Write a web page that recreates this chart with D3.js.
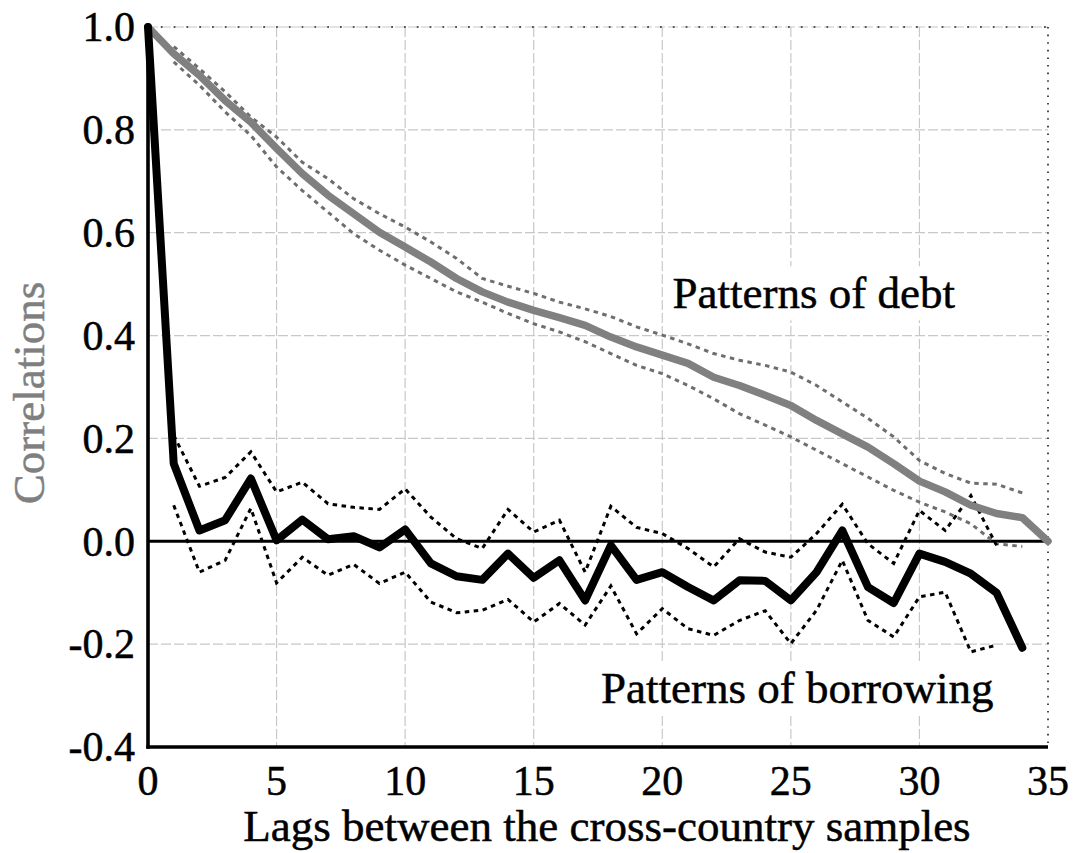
<!DOCTYPE html>
<html>
<head>
<meta charset="utf-8">
<script src="https://cdn.jsdelivr.net/npm/d3@7"></script>
<style>
  body { margin: 0; background: #fff; }
  #canvas { width: 1076px; height: 853px; }
</style>
</head>
<body>
<div id="canvas"></div>
<script>
// lags on the x axis
const debtLags = [0,1,2,3,4,5,6,7,8,9,10,11,12,13,14,15,16,17,18,19,20,21,22,23,24,25,26,27,28,29,30,31,32,33,34,35]
const debtValues = [1.0,0.948,0.906,0.857,0.815,0.764,0.715,0.673,0.637,0.601,0.572,0.543,0.511,0.485,0.465,0.449,0.435,0.42,0.397,0.378,0.362,0.346,0.319,0.303,0.284,0.264,0.235,0.209,0.183,0.151,0.117,0.096,0.07,0.054,0.046,0.0]

const debtBandLags = [1,2,3,4,5,6,7,8,9,10,11,12,13,14,15,16,17,18,19,20,21,22,23,24,25,26,27,28,29,30,31,32,33,34]
const debtUpper = [0.962,0.919,0.874,0.825,0.786,0.737,0.705,0.666,0.637,0.611,0.582,0.55,0.511,0.496,0.482,0.465,0.452,0.437,0.417,0.401,0.384,0.365,0.352,0.342,0.329,0.303,0.271,0.239,0.203,0.157,0.132,0.113,0.111,0.094]
const debtLower = [0.932,0.887,0.835,0.789,0.728,0.682,0.64,0.598,0.566,0.537,0.511,0.485,0.465,0.443,0.423,0.407,0.388,0.365,0.342,0.326,0.303,0.277,0.248,0.226,0.203,0.177,0.151,0.125,0.099,0.076,0.057,0.034,-0.005,-0.01]

const borrowLags = [0,1,2,3,4,5,6,7,8,9,10,11,12,13,14,15,16,17,18,19,20,21,22,23,24,25,26,27,28,29,30,31,32,33,34]
const borrowValues = [1.0,0.151,0.021,0.041,0.122,0.002,0.042,0.004,0.01,-0.012,0.023,-0.043,-0.068,-0.075,-0.024,-0.071,-0.037,-0.115,-0.008,-0.075,-0.06,-0.089,-0.115,-0.076,-0.077,-0.115,-0.06,0.021,-0.089,-0.12,-0.024,-0.04,-0.063,-0.1,-0.207]

const borrowBandLags = [1,2,3,4,5,6,7,8,9,10,11,12,13,14,15,16,17,18,19,20,21,22,23,24,25,26,27,28,29,30,31,32,33]
const borrowUpper = [0.206,0.107,0.124,0.174,0.096,0.115,0.073,0.066,0.062,0.102,0.047,0.005,-0.014,0.062,0.018,0.041,-0.06,0.068,0.027,0.015,-0.014,-0.05,0.005,-0.021,-0.031,0.015,0.072,-0.005,-0.043,0.06,0.021,0.089,-0.008]
const borrowLower = [0.07,-0.06,-0.037,0.064,-0.081,-0.031,-0.066,-0.045,-0.082,-0.06,-0.118,-0.139,-0.134,-0.113,-0.157,-0.121,-0.163,-0.087,-0.18,-0.131,-0.17,-0.183,-0.154,-0.135,-0.199,-0.134,-0.037,-0.154,-0.186,-0.108,-0.099,-0.215,-0.202]

const xTicks = [0,5,10,15,20,25,30,35]
const yTicks = [-0.4,-0.2,0.0,0.2,0.4,0.6,0.8,1.0]

const xTitle = "Lags between the cross-country samples"
const yTitle = "Correlations"
const debtLabel = "Patterns of debt"
const borrowLabel = "Patterns of borrowing"

window.onload = function (){setup()}

function setup(){

  let svg = {}
  const font = "'Liberation Serif', 'Times New Roman', serif"
  const left = 148, right = 1048, top = 27, bottom = 747

  const x = d3.scaleLinear().domain([0, 35]).range([left, right])
  const y = d3.scaleLinear().domain([-0.4, 1.0]).range([bottom, top])

  function setupSVGCanvas(){
    svg = d3.select("#canvas")
      .append("svg")
      .attr("width", 1076)
      .attr("height", 853)
      .style("font-family", font)
  }

  function drawGrid(){
    svg.selectAll("line.vgrid")
      .data(xTicks.filter(d => d > 0 && d < 35))
      .join("line")
      .attr("class", "vgrid")
      .attr("x1", d => x(d)).attr("x2", d => x(d))
      .attr("y1", top).attr("y2", bottom)
      .attr("stroke", "#c8c8c8")
      .attr("stroke-width", 1.2)
      .attr("stroke-dasharray", "10,3")

    svg.selectAll("line.hgrid")
      .data(yTicks.filter(d => d > -0.4 && d !== 0))
      .join("line")
      .attr("class", "hgrid")
      .attr("x1", left).attr("x2", right)
      .attr("y1", d => y(d)).attr("y2", d => y(d))
      .attr("stroke", "#c8c8c8")
      .attr("stroke-width", 1.2)
      .attr("stroke-dasharray", "10,3")

    // dotted frame on top and right
    svg.append("line")
      .attr("x1", left).attr("x2", right)
      .attr("y1", y(1.0)).attr("y2", y(1.0))
      .attr("stroke", "#555").attr("stroke-width", 1.8)
      .attr("stroke-dasharray", "1.8,11")
    svg.append("line")
      .attr("x1", right).attr("x2", right)
      .attr("y1", top).attr("y2", bottom)
      .attr("stroke", "#222").attr("stroke-width", 1.6)
      .attr("stroke-dasharray", "1.6,6")
  }

  function drawLabelBoxes(){
    // labels sit on white boxes that cut the grid
    let labels = [
      {text: debtLabel, lag: 20.4, val: 0.453},
      {text: borrowLabel, lag: 17.62, val: -0.315}
    ]
    let g = svg.selectAll("g.lbl")
      .data(labels)
      .join("g")
      .attr("class", "lbl")
    g.append("text")
      .attr("x", d => x(d.lag))
      .attr("y", d => y(d.val))
      .attr("font-size", 45)
      .attr("fill", "#000")
      .attr("stroke", "#000")
      .attr("stroke-width", 0.5)
      .text(d => d.text)
    g.each(function(){
      let t = d3.select(this).select("text")
      let b = t.node().getBBox()
      d3.select(this).insert("rect", "text")
        .attr("x", b.x - 4).attr("y", b.y - 2)
        .attr("width", b.width + 8).attr("height", b.height + 4)
        .attr("fill", "#fff")
    })
  }

  function drawAxes(){
    svg.append("line")
      .attr("x1", left).attr("x2", right)
      .attr("y1", y(0)).attr("y2", y(0))
      .attr("stroke", "#000").attr("stroke-width", 3)

    svg.append("line")
      .attr("x1", left).attr("x2", left)
      .attr("y1", top).attr("y2", bottom + 1.7)
      .attr("stroke", "#000").attr("stroke-width", 3.6)
    svg.append("line")
      .attr("x1", left - 1.7).attr("x2", right)
      .attr("y1", bottom).attr("y2", bottom)
      .attr("stroke", "#000").attr("stroke-width", 3.6)

    svg.selectAll("text.xtick")
      .data(xTicks)
      .join("text")
      .attr("class", "xtick")
      .attr("x", d => x(d))
      .attr("y", 795)
      .attr("text-anchor", "middle")
      .attr("font-size", 42)
      .attr("stroke", "#000").attr("stroke-width", 0.5)
      .text(d => d)

    svg.selectAll("text.ytick")
      .data(yTicks)
      .join("text")
      .attr("class", "ytick")
      .attr("x", 135)
      .attr("y", d => y(d))
      .attr("dy", "0.34em")
      .attr("text-anchor", "end")
      .attr("font-size", 42)
      .attr("stroke", "#000").attr("stroke-width", 0.5)
      .text(d => d.toFixed(1))

    svg.append("text")
      .attr("x", (left + right) / 2 + 9)
      .attr("y", 841)
      .attr("text-anchor", "middle")
      .attr("font-size", 45)
      .attr("stroke", "#000").attr("stroke-width", 0.5)
      .text(xTitle)

    svg.append("text")
      .attr("transform", "translate(44," + ((top + bottom) / 2 + 6) + ") rotate(-90)")
      .attr("text-anchor", "middle")
      .attr("font-size", 45)
      .attr("fill", "#7f7f7f")
      .attr("stroke", "#7f7f7f").attr("stroke-width", 0.5)
      .text(yTitle)
  }

  function drawSeries(){
    let line = d3.line()
      .x(d => x(d[0]))
      .y(d => y(d[1]))

    let bands = [
      {lags: debtBandLags, vals: debtUpper, color: "#6e6e6e"},
      {lags: debtBandLags, vals: debtLower, color: "#6e6e6e"},
      {lags: borrowBandLags, vals: borrowUpper, color: "#000"},
      {lags: borrowBandLags, vals: borrowLower, color: "#000"}
    ]
    svg.selectAll("path.band")
      .data(bands)
      .join("path")
      .attr("class", "band")
      .attr("d", d => line(d.lags.map((l, i) => [l, d.vals[i]])))
      .attr("fill", "none")
      .attr("stroke", d => d.color)
      .attr("stroke-width", 3)
      .attr("stroke-dasharray", "4.5,4.5")

    let mains = [
      {lags: debtLags, vals: debtValues, color: "#808080", w: 7.5},
      {lags: borrowLags, vals: borrowValues, color: "#000", w: 8}
    ]
    svg.selectAll("path.main")
      .data(mains)
      .join("path")
      .attr("class", "main")
      .attr("d", d => line(d.lags.map((l, i) => [l, d.vals[i]])))
      .attr("fill", "none")
      .attr("stroke", d => d.color)
      .attr("stroke-width", d => d.w)
      .attr("stroke-linejoin", "round")
      .attr("stroke-linecap", "round")
  }

  setupSVGCanvas()
  drawGrid()
  drawLabelBoxes()
  drawAxes()
  drawSeries()
}
</script>
</body>
</html>
